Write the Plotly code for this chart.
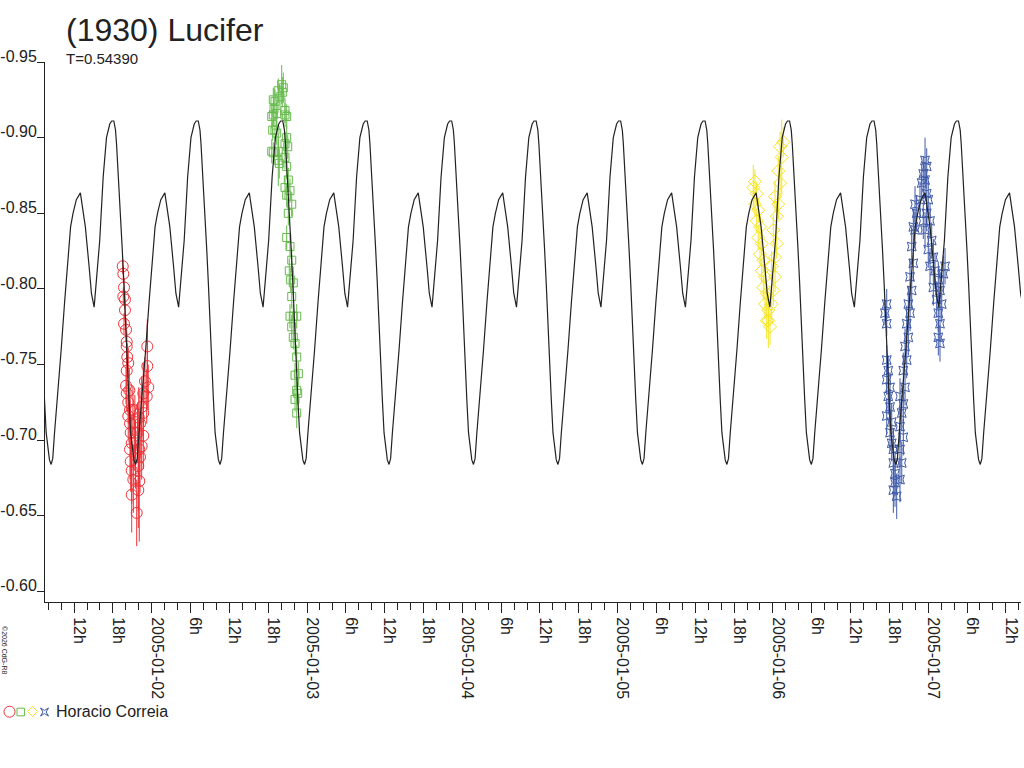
import numpy as np
import pandas as pd
import plotly.graph_objects as go

# ---------------- data ----------------
TITLE = "(1930) Lucifer"
PERIOD_LABEL = "T=0.54390"
OBSERVER = "Horacio Correia"
PERIOD_DAYS = 0.54390
EPOCH_HOURS = 31.20          # hours after 2005-01-01 00:00 UT of a primary maximum

# one-cycle model profile (phase from primary maximum, relative magnitude)
MODEL_PHASE = [0.000, 0.020, 0.032, 0.060, 0.080, 0.100, 0.119, 0.139, 0.160, 0.179,
               0.199, 0.219, 0.238, 0.258, 0.277, 0.298, 0.338, 0.377, 0.417, 0.457,
               0.488, 0.517, 0.556, 0.604, 0.663, 0.707, 0.735, 0.767, 0.794, 0.833,
               0.874, 0.913, 0.952, 0.975]
MODEL_MAG = [-0.911, -0.905, -0.896, -0.870, -0.848, -0.826, -0.804, -0.775, -0.749, -0.727,
             -0.705, -0.694, -0.687, -0.684, -0.688, -0.705, -0.731, -0.760, -0.791, -0.819,
             -0.841, -0.850, -0.859, -0.8635, -0.841, -0.815, -0.797, -0.788, -0.806, -0.832,
             -0.874, -0.900, -0.909, -0.911]

# session 1 (red): hours after 2005-01-01 00:00, magnitude, error
RED_T = [19.52, 19.61, 19.72, 19.61, 19.87, 19.87, 19.72, 20.03, 20.14, 20.14,
         20.23, 20.38, 20.14, 20.03, 20.14, 20.54, 20.38, 20.65, 20.38, 20.65,
         20.75, 20.91, 20.65, 20.75, 20.91, 21.16, 20.91, 21.68, 21.93, 22.08,
         21.30, 21.50, 21.80, 22.00, 21.40, 21.10,
         23.32, 23.32, 23.47, 22.96, 23.23, 22.70, 22.45, 22.70, 22.19, 22.70,
         22.45, 22.19, 21.93, 22.08]
RED_M = [-0.815, -0.810, -0.801, -0.795, -0.793, -0.786, -0.777, -0.773, -0.765, -0.762,
         -0.755, -0.751, -0.746, -0.736, -0.731, -0.733, -0.725, -0.720, -0.716, -0.711,
         -0.705, -0.698, -0.694, -0.686, -0.680, -0.674, -0.664, -0.652, -0.667, -0.673,
         -0.700, -0.690, -0.705, -0.715, -0.712, -0.720,
         -0.762, -0.749, -0.735, -0.739, -0.729, -0.731, -0.722, -0.718, -0.711, -0.703,
         -0.696, -0.689, -0.683, -0.694]
RED_E = [0.005, 0.005, 0.006, 0.006, 0.006, 0.007, 0.007, 0.008, 0.008, 0.009,
         0.009, 0.010, 0.010, 0.012, 0.012, 0.014, 0.014, 0.015, 0.015, 0.016,
         0.018, 0.018, 0.020, 0.020, 0.022, 0.022, 0.025, 0.022, 0.025, 0.040,
         0.020, 0.022, 0.020, 0.020, 0.018, 0.016,
         0.018, 0.028, 0.015, 0.016, 0.018, 0.020, 0.020, 0.020, 0.022, 0.022,
         0.022, 0.024, 0.030, 0.024]

# session 2 (green)
GREEN_T = [44.09, 44.34, 44.18, 43.56, 43.05, 42.90, 43.32, 42.79, 44.60, 44.86,
           43.05, 42.70, 42.79, 43.56, 44.86, 45.02, 43.56, 43.72, 44.60, 44.86,
           45.11, 44.60, 45.37, 44.86, 45.64, 45.11, 44.86, 45.37, 45.64, 45.26,
           45.48, 45.88, 45.64, 45.37, 45.88, 45.64, 46.41, 45.88, 46.15, 46.41,
           46.15, 46.66, 46.41, 46.15, 46.56, 46.41,
           42.79, 43.83, 44.60, 42.55, 43.32, 44.60, 42.55]
GREEN_M = [-0.935, -0.933, -0.930, -0.931, -0.924, -0.919, -0.916, -0.915, -0.915, -0.914,
           -0.905, -0.905, -0.890, -0.891, -0.900, -0.894, -0.885, -0.883, -0.887, -0.881,
           -0.872, -0.867, -0.865, -0.862, -0.856, -0.850, -0.834, -0.828, -0.819, -0.812,
           -0.806, -0.804, -0.795, -0.782, -0.782, -0.775, -0.782, -0.768, -0.764, -0.755,
           -0.743, -0.744, -0.733, -0.727, -0.731, -0.718,
           -0.925, -0.927, -0.918, -0.914, -0.903, -0.896, -0.891]
GREEN_E = [0.013, 0.010, 0.010, 0.008, 0.008, 0.008, 0.008, 0.008, 0.008, 0.008,
           0.007, 0.007, 0.007, 0.008, 0.008, 0.008, 0.017, 0.010, 0.008, 0.008,
           0.008, 0.008, 0.008, 0.008, 0.008, 0.008, 0.008, 0.008, 0.008, 0.008,
           0.008, 0.008, 0.008, 0.008, 0.008, 0.008, 0.008, 0.008, 0.008, 0.008,
           0.008, 0.008, 0.008, 0.008, 0.008, 0.010,
           0.008, 0.008, 0.008, 0.008, 0.008, 0.008, 0.008]

# session 3 (yellow)
YELLOW_T = [117.23, 116.97, 117.50, 117.23, 117.74, 117.50, 118.01, 117.74, 118.27, 118.01,
            118.52, 118.27, 118.78, 118.52, 119.04, 118.78, 119.29, 119.04, 119.55, 119.29,
            119.81, 120.06, 120.33, 119.81, 120.33, 120.59, 120.06, 120.59, 120.83, 120.33,
            121.10, 120.83, 121.36, 121.10, 121.61]
YELLOW_M = [-0.871, -0.867, -0.863, -0.856, -0.852, -0.845, -0.841, -0.834, -0.830, -0.823,
            -0.819, -0.812, -0.808, -0.801, -0.797, -0.790, -0.786, -0.779, -0.775, -0.779,
            -0.790, -0.799, -0.808, -0.815, -0.821, -0.830, -0.839, -0.848, -0.856, -0.861,
            -0.870, -0.878, -0.887, -0.894, -0.897]
YELLOW_E = [0.008, 0.015, 0.008, 0.008, 0.008, 0.008, 0.008, 0.008, 0.008, 0.008,
            0.008, 0.008, 0.008, 0.008, 0.008, 0.010, 0.010, 0.012, 0.012, 0.018,
            0.010, 0.010, 0.010, 0.010, 0.010, 0.010, 0.010, 0.010, 0.010, 0.010,
            0.010, 0.010, 0.025, 0.010, 0.010]

# session 4 (blue)
BLUE_T = [137.59, 137.32, 137.59, 137.59, 137.83, 137.59, 138.10, 137.83, 138.10, 137.59,
          138.36, 138.10, 138.36, 138.61, 138.61, 138.87, 138.87, 138.61, 139.13, 139.64,
          139.91, 139.64, 140.15, 139.64, 139.91, 140.15, 139.64, 140.42, 140.15, 140.68,
          140.42, 140.93, 140.68, 141.19, 140.93, 141.45, 141.19, 141.70, 141.45, 141.96,
          141.70, 142.22, 141.96, 142.73, 143.00, 143.24, 143.51, 143.77, 143.51, 143.77,
          144.01, 143.77, 143.24, 143.51, 144.28, 144.54, 144.01, 144.79, 144.28, 145.05,
          145.56, 144.79, 145.82, 145.31, 146.09, 145.56, 145.82, 145.56, 145.82, 146.33,
          146.60]
BLUE_M = [-0.790, -0.784, -0.777, -0.753, -0.746, -0.740, -0.735, -0.729, -0.722, -0.716,
          -0.712, -0.705, -0.698, -0.694, -0.685, -0.678, -0.672, -0.667, -0.663, -0.674,
          -0.685, -0.694, -0.702, -0.709, -0.718, -0.724, -0.729, -0.735, -0.746, -0.753,
          -0.762, -0.768, -0.777, -0.784, -0.790, -0.799, -0.808, -0.817, -0.828, -0.839,
          -0.841, -0.850, -0.856, -0.859, -0.870, -0.876, -0.885, -0.881, -0.872, -0.863,
          -0.859, -0.850, -0.845, -0.839, -0.845, -0.832, -0.826, -0.821, -0.815, -0.812,
          -0.806, -0.801, -0.799, -0.793, -0.790, -0.784, -0.777, -0.768, -0.764, -0.810,
          -0.815]
BLUE_E = [0.010, 0.008, 0.008, 0.010, 0.010, 0.010, 0.010, 0.012, 0.012, 0.012,
          0.012, 0.012, 0.012, 0.014, 0.014, 0.015, 0.016, 0.015, 0.015, 0.015,
          0.014, 0.012, 0.012, 0.012, 0.012, 0.012, 0.012, 0.012, 0.012, 0.012,
          0.012, 0.012, 0.012, 0.012, 0.012, 0.012, 0.012, 0.012, 0.012, 0.012,
          0.012, 0.012, 0.012, 0.012, 0.012, 0.012, 0.015, 0.012, 0.012, 0.012,
          0.012, 0.012, 0.012, 0.012, 0.012, 0.012, 0.012, 0.012, 0.012, 0.012,
          0.012, 0.012, 0.012, 0.012, 0.012, 0.012, 0.012, 0.012, 0.012, 0.012,
          0.012]

Y_TICKS = [-0.95, -0.90, -0.85, -0.80, -0.75, -0.70, -0.65, -0.60]
X_RANGE_HOURS = [7.51, 158.34]
Y_RANGE = [-0.5931, -0.95]

# ---------------- build ----------------
BASE = pd.Timestamp("2005-01-01")
FONT = "Liberation Sans, Arial, sans-serif"
INK = "#222222"


def to_time(hours):
    return BASE + pd.to_timedelta(np.asarray(hours, dtype=float), unit="h")


fig = go.Figure()

sessions = [
    (RED_T, RED_M, RED_E, "#ee3338", "circle-open", 11),
    (GREEN_T, GREEN_M, GREEN_E, "#66bb4c", "square-open", 8),
    (YELLOW_T, YELLOW_M, YELLOW_E, "#f4e420", "diamond-open", 10),
    (BLUE_T, BLUE_M, BLUE_E, "#3f5aa8", "star-square-open", 8),
]
for t, m, e, col, sym, sz in sessions:
    fig.add_trace(go.Scatter(
        x=to_time(t), y=m, mode="markers",
        marker=dict(symbol=sym, size=sz, color=col, line=dict(width=1, color=col)),
        error_y=dict(type="data", array=e, visible=True, color=col, thickness=1, width=0),
        hoverinfo="skip",
    ))

# periodic model curve: the one-cycle profile repeated with the period
period_h = PERIOD_DAYS * 24.0
k0 = int(np.floor((X_RANGE_HOURS[0] - EPOCH_HOURS) / period_h)) - 1
k1 = int(np.ceil((X_RANGE_HOURS[1] - EPOCH_HOURS) / period_h)) + 1
mt, mm = [], []
for k in range(k0, k1 + 1):
    for ph, mg in zip(MODEL_PHASE, MODEL_MAG):
        mt.append(EPOCH_HOURS + (k + ph) * period_h)
        mm.append(mg)
fig.add_trace(go.Scatter(x=to_time(mt), y=mm, mode="lines",
                         line=dict(color=INK, width=1.2), hoverinfo="skip"))

# x ticks: labels every 6 h, minor ticks every 2 h
major_h = list(range(12, 157, 6))
major_text = []
for h in major_h:
    ts = BASE + pd.Timedelta(hours=h)
    major_text.append(ts.strftime("%Y-%m-%d") if ts.hour == 0 else f"{ts.hour}h")
minor_h = list(range(8, 159, 2))

fig.update_xaxes(
    type="date", automargin=False,
    range=[to_time([X_RANGE_HOURS[0]])[0], to_time([X_RANGE_HOURS[1]])[0]],
    tickmode="array", tickvals=to_time(major_h), ticktext=major_text,
    tickangle=90, ticks="outside", ticklen=10, tickwidth=1, tickcolor=INK,
    showline=True, linecolor=INK, linewidth=1, showgrid=False, zeroline=False,
    tickfont=dict(size=16, color=INK, family=FONT),
    ticklabelshift=5, ticklabelstandoff=1,
    minor=dict(tickmode="array", tickvals=to_time(minor_h), ticks="outside",
               ticklen=7, tickwidth=1, tickcolor=INK, showgrid=False),
)
fig.update_yaxes(
    range=Y_RANGE, automargin=False, tickmode="array", tickvals=Y_TICKS,
    ticktext=[f"{v:.2f}" for v in Y_TICKS],
    ticks="outside", ticklen=7, tickwidth=1, tickcolor=INK,
    showline=True, linecolor=INK, linewidth=1, showgrid=False, zeroline=False,
    tickfont=dict(size=16, color=INK, family=FONT),
    ticklabelshift=6, ticklabelstandoff=-3,
)

W, H = 1024, 768
ML, MR, MT, MB = 45, 3, 62, 166
PW, PH = W - ML - MR, H - MT - MB


def px(xp):
    return (xp - ML) / PW


def py(yp):
    return (H - MB - yp) / PH


fig.update_layout(
    width=W, height=H, margin=dict(l=ML, r=MR, t=MT, b=MB, autoexpand=False),
    paper_bgcolor="white", plot_bgcolor="white", showlegend=False,
    font=dict(family=FONT, size=16, color=INK),
)

annotations = [
    dict(text=TITLE, x=px(64), y=py(30), xref="paper", yref="paper",
         xanchor="left", yanchor="middle", showarrow=False,
         font=dict(size=32, color=INK, family=FONT)),
    dict(text=PERIOD_LABEL, x=px(64), y=py(58), xref="paper", yref="paper",
         xanchor="left", yanchor="middle", showarrow=False,
         font=dict(size=15, color=INK, family=FONT)),
    dict(text=OBSERVER, x=px(54), y=py(711), xref="paper", yref="paper",
         xanchor="left", yanchor="middle", showarrow=False,
         font=dict(size=16, color=INK, family=FONT)),
    dict(text="©2026 CdG-R8", x=px(5), y=py(650), xref="paper", yref="paper",
         xanchor="center", yanchor="middle", showarrow=False, textangle=90,
         font=dict(size=7, color=INK, family=FONT)),
]
fig.update_layout(annotations=annotations)

# legend glyphs
shapes = []
cx, cy, r = 9.5, 711.7, 5.5
shapes.append(dict(type="circle", xref="paper", yref="paper",
                   x0=px(cx - r), x1=px(cx + r), y0=py(cy + r), y1=py(cy - r),
                   line=dict(color="#ee3338", width=1)))
cx, cy, r = 20.8, 712, 3.8
shapes.append(dict(type="rect", xref="paper", yref="paper",
                   x0=px(cx - r), x1=px(cx + r), y0=py(cy + r), y1=py(cy - r),
                   line=dict(color="#66bb4c", width=1)))
cx, cy, r = 32.5, 711.5, 5
path = (f"M {px(cx - r)} {py(cy)} L {px(cx)} {py(cy - r)} L {px(cx + r)} {py(cy)} "
        f"L {px(cx)} {py(cy + r)} Z")
shapes.append(dict(type="path", xref="paper", yref="paper", path=path,
                   line=dict(color="#f4e420", width=1)))
cx, cy, r, q = 44.5, 712, 4, 1.6
pts = [(-r, -r), (0, -q), (r, -r), (q, 0), (r, r), (0, q), (-r, r), (-q, 0)]
path = "M " + " L ".join(f"{px(cx + a)} {py(cy + b)}" for a, b in pts) + " Z"
shapes.append(dict(type="path", xref="paper", yref="paper", path=path,
                   line=dict(color="#3f5aa8", width=1)))
fig.update_layout(shapes=shapes)

fig.write_html(
    "out.html",
    config={"displayModeBar": False},
    post_script="document.body.style.margin='0px';document.body.style.overflow='hidden';",
)
